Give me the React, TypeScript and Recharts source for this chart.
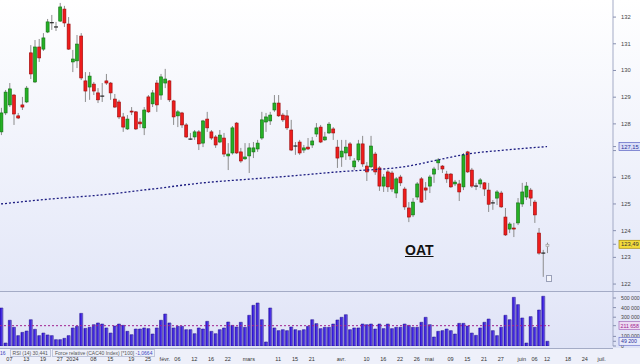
import React from 'react';
import { ComposedChart, Bar, Line, XAxis, YAxis, ReferenceLine } from 'recharts';

// OAT daily candles, 5 Dec 2023 -> 12 Jun 2024 (index = trading day)
const open = [
  127.70, 128.41, 128.71, 129.08, 128.30, 128.71, 128.82, 130.66, 129.57, 130.88,
  130.80, 131.44, 131.79, 131.63, 131.85, 132.30, 131.74, 130.32, 130.36, 131.29,
  129.61, 129.38, 129.49, 129.16, 129.04, 129.61, 129.53, 128.93, 128.82, 128.26,
  127.81, 128.48, 128.45, 128.07, 127.85, 129.01, 128.75, 129.53, 129.08, 129.53,
  129.61, 128.86, 128.30, 128.41, 127.96, 127.43, 127.51, 127.70, 127.28, 128.18,
  127.70, 127.51, 127.32, 127.47, 126.80, 126.91, 128.03, 126.95, 126.69, 126.80,
  126.95, 127.06, 127.47, 128.07, 128.11, 128.52, 128.78, 128.33, 128.30, 127.77,
  127.17, 127.32, 127.02, 127.13, 127.21, 127.62, 127.88, 127.40, 127.66, 127.81,
  127.13, 126.76, 126.91, 127.25, 126.39, 126.65, 127.25, 126.42, 126.39, 126.87,
  126.35, 125.67, 126.20, 126.16, 125.41, 126.01, 125.56, 124.85, 124.59, 125.26,
  125.94, 125.60, 125.67, 126.12, 126.54, 126.42, 126.12, 126.12, 125.75, 125.75,
  125.64, 126.95, 126.27, 125.67, 125.75, 125.79, 125.52, 125.04, 125.22, 125.41,
  124.51, 124.06, 124.10, 124.29, 125.00, 125.26, 125.52, 125.07, 123.91, 123.16,
  123.40,
];
const high = [
  128.60, 129.27, 129.53, 129.12, 128.41, 129.01, 129.42, 130.95, 131.14, 131.18,
  131.40, 131.93, 132.08, 131.82, 132.53, 132.42, 132.00, 130.77, 131.33, 131.40,
  129.94, 129.94, 129.57, 129.34, 129.53, 129.87, 129.57, 129.12, 128.90, 128.41,
  128.33, 128.63, 128.48, 128.22, 128.63, 129.08, 129.27, 129.64, 129.87, 130.06,
  129.64, 128.90, 128.52, 128.45, 128.03, 127.66, 127.77, 127.77, 128.15, 128.45,
  127.77, 127.58, 127.77, 127.66, 127.28, 127.92, 128.07, 127.10, 127.28, 127.28,
  127.32, 127.40, 128.45, 128.41, 128.45, 129.08, 129.08, 128.41, 128.52, 128.15,
  127.32, 127.40, 127.21, 127.47, 127.51, 128.03, 127.96, 127.70, 128.07, 127.88,
  127.40, 127.40, 127.40, 127.32, 126.72, 127.40, 127.55, 126.57, 127.55, 126.95,
  126.42, 126.12, 126.27, 126.24, 126.01, 126.09, 125.64, 125.07, 125.22, 125.82,
  126.01, 125.82, 126.09, 126.39, 126.72, 126.46, 126.24, 126.16, 125.90, 125.90,
  126.91, 126.99, 126.35, 125.79, 125.97, 125.82, 125.79, 125.15, 125.52, 125.49,
  124.85, 124.32, 124.29, 125.22, 125.79, 125.82, 125.60, 125.15, 124.10, 123.28,
  123.55,
];
const low = [
  127.58, 128.33, 128.63, 127.96, 128.18, 128.52, 128.78, 129.68, 129.53, 130.32,
  130.73, 131.40, 131.52, 131.48, 131.82, 131.63, 130.77, 129.94, 130.09, 129.64,
  128.82, 128.90, 129.08, 128.78, 128.82, 129.46, 128.90, 128.60, 128.18, 127.70,
  127.77, 128.33, 127.77, 127.85, 127.58, 128.41, 128.63, 128.45, 128.90, 129.34,
  128.82, 127.96, 127.88, 127.85, 127.47, 127.40, 127.40, 127.02, 127.13, 127.70,
  127.40, 127.10, 127.28, 126.76, 126.27, 126.85, 126.87, 126.54, 126.65, 126.16,
  126.72, 126.95, 127.40, 127.70, 127.96, 128.45, 128.26, 128.07, 127.77, 126.98,
  126.84, 126.84, 126.91, 127.02, 127.10, 127.51, 127.28, 127.36, 127.62, 127.40,
  126.35, 126.39, 126.65, 126.65, 126.27, 126.57, 126.39, 125.86, 126.35, 126.09,
  125.49, 125.45, 125.45, 125.45, 125.22, 125.67, 124.78, 124.32, 124.51, 125.15,
  125.04, 125.15, 125.41, 125.79, 126.27, 126.16, 125.79, 125.60, 125.67, 125.11,
  125.52, 126.16, 125.60, 125.52, 125.60, 125.30, 124.70, 124.78, 124.96, 124.85,
  123.80, 123.91, 123.76, 124.21, 124.89, 125.15, 124.92, 124.29, 123.10, 122.27,
  123.16,
];
const close = [
  128.41, 129.19, 129.31, 128.37, 128.22, 128.63, 129.34, 129.87, 130.88, 130.47,
  131.22, 131.82, 131.79, 131.63, 132.38, 131.78, 130.80, 130.43, 130.99, 129.72,
  129.23, 129.79, 129.23, 128.90, 129.04, 129.53, 129.16, 128.63, 128.26, 127.88,
  128.18, 128.45, 127.81, 128.00, 128.52, 128.45, 129.16, 128.71, 129.76, 129.68,
  128.90, 128.26, 128.45, 127.96, 127.51, 127.43, 127.70, 127.25, 128.11, 127.85,
  127.47, 127.21, 127.58, 126.87, 126.87, 127.85, 126.91, 126.61, 126.76, 127.10,
  127.10, 127.28, 128.15, 128.26, 128.33, 128.78, 128.30, 128.15, 127.85, 127.02,
  127.17, 126.91, 127.10, 127.06, 127.36, 127.85, 127.32, 127.51, 127.99, 127.66,
  126.72, 126.98, 127.13, 126.80, 126.61, 127.25, 126.50, 126.20, 127.17, 126.20,
  125.67, 126.01, 125.64, 125.56, 125.94, 125.79, 124.89, 124.51, 125.07, 125.75,
  125.07, 125.52, 126.01, 126.31, 126.65, 126.31, 125.94, 125.64, 125.82, 125.45,
  126.84, 126.20, 125.67, 125.67, 125.90, 125.56, 124.99, 125.04, 125.45, 124.89,
  123.84, 124.25, 124.06, 125.04, 125.45, 125.67, 125.22, 124.59, 123.16, 123.16,
  123.49,
];
// volume in thousands
const volumeK = [
  396, 31, 268, 195, 108, 142, 156, 274, 174, 108,
  135, 115, 108, 66, 66, 80, 108, 188, 205, 340,
  184, 195, 222, 240, 229, 188, 135, 208, 229, 215,
  153, 118, 177, 177, 188, 181, 125, 188, 268, 333,
  240, 188, 205, 205, 170, 170, 128, 188, 177, 257,
  153, 128, 170, 188, 250, 215, 198, 247, 195, 320,
  424, 448, 274, 42, 396, 188, 160, 170, 160, 198,
  170, 160, 170, 205, 274, 233, 181, 195, 195, 229,
  271, 299, 326, 170, 188, 188, 229, 222, 229, 177,
  229, 181, 229, 181, 195, 195, 229, 215, 195, 195,
  247, 299, 222, 94, 153, 160, 177, 160, 125, 236,
  236, 208, 135, 111, 188, 247, 281, 160, 108, 195,
  320, 274, 507, 431, 292, 31, 306, 195, 375, 518,
  49.2,
];
// dotted long moving average, read at a few points
const maIdx = [0, 12, 24, 36, 48, 60, 66, 80, 97, 104, 111, 120, 130];
const maVal = [125.0, 125.19, 125.34, 125.56, 125.79, 125.94, 126.01, 126.2, 126.42, 126.65, 126.87, 127.02, 127.15];

const priceTicks = [122, 123, 124, 125, 126, 127, 128, 129, 130, 131, 132];
const maLast = 127.15;
const lastClose = 123.49;
const volTicks = [0, 100000, 300000, 400000, 500000];
const volAvg = 211658;
const volLast = 49200;

const tickIdx = [2, 6, 10, 14, 17, 22, 26, 31, 35, 39, 42, 46, 50, 54, 59, 66, 70, 74, 81, 87, 91, 95, 99, 102, 107, 111, 115, 119, 124, 127, 130, 135, 139, 143];
const tickLabels = ['07', '13', '19', '27', '2024', '08', '15', '19', '25', 'févr.', '06', '12', '16', '22', 'mars', '11', '15', '21', 'avr.', '10', '16', '22', '26', 'mai', '09', '15', '21', '27', 'juin', '06', '12', '18', '24', 'juil.'];

const X_DOMAIN: [number, number] = [-0.24, 145.7];
const FONT = '"Liberation Sans", Arial, sans-serif';

const rows = open.map((o, i) => {
  const k = maIdx.indexOf(i);
  return {
    i,
    open: o,
    high: high[i],
    low: low[i],
    close: close[i],
    vol: volumeK[i] * 1000,
    ma: k >= 0 ? maVal[k] : null,
    last: i === open.length - 1,
  };
});

const Candle = (props: any) => {
  const { x, y, width, height, payload } = props;
  if (x == null || y == null) return null;
  const top = height < 0 ? y + height : y;
  const h = Math.abs(height);
  const { open: o, close: c, high: hi, low: lo, last } = payload;
  const yOf = (v: number) => top + ((hi - v) / (hi - lo)) * h;
  const cx = x + width / 2;
  const y1 = Math.min(yOf(o), yOf(c));
  const y2 = Math.max(yOf(o), yOf(c));
  let fill = '#ee1c1c', stroke = '#9a0b0b';
  if (c > o) { fill = '#25b025'; stroke = '#0f6e0f'; }
  if (last) { fill = '#e4e4e4'; stroke = '#9a9a9a'; }
  const flat = Math.abs(c - o) < 0.005;
  return (
    <g>
      <line x1={cx} x2={cx} y1={top} y2={top + h} stroke="#8c8c8c" strokeWidth={1} />
      {flat ? (
        <line x1={x - 0.5} x2={x + width + 0.5} y1={y1} y2={y1} stroke={last ? '#888' : '#222'} strokeWidth={1.2} />
      ) : (
        <rect x={x} y={y1} width={width} height={Math.max(1, y2 - y1)} fill={fill} stroke={stroke} strokeWidth={0.6} />
      )}
    </g>
  );
};

const PriceTick = (props: any) => {
  const { x, y, payload } = props;
  const v = payload.value;
  if (v === maLast) {
    return (
      <g>
        <rect x={x + 1} y={y - 4} width={24} height={8} fill="#dadef8" stroke="#5a63c4" strokeWidth={0.7} />
        <text x={x + 3} y={y + 2} fontSize={5.8} fontFamily={FONT} fill="#2a2f9a">127,15</text>
      </g>
    );
  }
  if (v === lastClose) {
    return (
      <g>
        <rect x={x + 1} y={y - 4} width={24} height={8} fill="#f3dc3c" stroke="#a68a00" strokeWidth={0.7} />
        <text x={x + 3} y={y + 2} fontSize={5.8} fontFamily={FONT} fill="#333">123,49</text>
      </g>
    );
  }
  // the 127 label sits under the moving-average box
  if (Math.abs(v - maLast) < 0.5) return <g />;
  return <text x={x + 3} y={y + 2} fontSize={5.8} fontFamily={FONT} fill="#444">{v}</text>;
};

const fmtVol = (v: number) => String(v).replace(/\B(?=(\d{3})+(?!\d))/g, ' ');

const VolTick = (props: any) => {
  const { x, y, payload } = props;
  const v = payload.value;
  if (v === volAvg) {
    return (
      <g>
        <rect x={x + 1} y={y - 4} width={24} height={8} fill="#eddcf3" stroke="#9a55b0" strokeWidth={0.6} />
        <text x={x + 2.5} y={y + 2} fontSize={5.2} fontFamily={FONT} fill="#a0208f">{fmtVol(v)}</text>
      </g>
    );
  }
  if (v === volLast) {
    return (
      <g>
        <rect x={x + 1} y={y - 4} width={22} height={8} fill="#e8ebfb" stroke="#5a63c4" strokeWidth={0.6} />
        <text x={x + 3} y={y + 2} fontSize={5.2} fontFamily={FONT} fill="#2a2f9a">{fmtVol(v)}</text>
      </g>
    );
  }
  return <text x={x + 3} y={y + 2} fontSize={5.2} fontFamily={FONT} fill="#444">{fmtVol(v)}</text>;
};

const dateLabel = (v: number) => {
  const k = tickIdx.indexOf(v);
  return k >= 0 ? tickLabels[k] : '';
};

export default function App() {
  return (
    <div style={{ position: 'absolute', left: 0, top: 0, width: 640, height: 364, overflow: 'hidden', background: '#eef0fa', fontFamily: FONT }}>
      <div style={{ position: 'absolute', left: 0, top: 0, width: 640, height: 291, background: 'linear-gradient(#ffffff, #e3e7f8)' }} />
      <div style={{ position: 'absolute', left: 0, top: 291, width: 640, height: 57, background: 'linear-gradient(#e6e9f9, #dfe3f6)' }} />
      <div style={{ position: 'absolute', left: 0, top: 291, width: 640, height: 1, background: '#a4abc6' }} />
      <div style={{ position: 'absolute', left: 0, top: 348, width: 613, height: 1, background: '#a4abc6' }} />

      <div style={{ position: 'absolute', left: 0, top: 0 }}>
        <ComposedChart width={640} height={291} data={rows} margin={{ top: 0, right: 0, bottom: 0, left: 0 }}>
          <XAxis type="number" dataKey="i" domain={X_DOMAIN} hide allowDataOverflow />
          <YAxis
            orientation="right"
            width={27}
            domain={[121.74, 132.64]}
            ticks={[...priceTicks, maLast, lastClose]}
            interval={0}
            allowDataOverflow
            tick={<PriceTick />}
            tickSize={3}
            tickLine={{ stroke: '#8890b0' }}
            axisLine={{ stroke: '#a4abc6' }}
          />
          <Bar dataKey={(d: any) => [d.low, d.high]} barSize={3} shape={<Candle />} isAnimationActive={false} />
          <Line
            dataKey="ma"
            type="monotone"
            stroke="#1b1b80"
            strokeWidth={1.3}
            strokeDasharray="2 2"
            dot={false}
            activeDot={false}
            connectNulls
            isAnimationActive={false}
          />
        </ComposedChart>
      </div>

      <div style={{ position: 'absolute', left: 0, top: 291 }}>
        <ComposedChart width={640} height={73} data={rows} margin={{ top: 0, right: 0, bottom: 0, left: 0 }}>
          <defs>
            <linearGradient id="volGrad" x1="0" y1="0" x2="1" y2="0">
              <stop offset="0" stopColor="#2c10d2" />
              <stop offset="0.6" stopColor="#4b32e6" />
              <stop offset="1" stopColor="#8a82d8" />
            </linearGradient>
          </defs>
          <XAxis
            type="number"
            dataKey="i"
            domain={X_DOMAIN}
            allowDataOverflow
            ticks={tickIdx}
            interval={0}
            tickFormatter={dateLabel}
            height={18}
            axisLine={false}
            tickLine={false}
            tickSize={6}
            tickMargin={5}
            tick={{ fontSize: 5.5, fill: '#333', fontFamily: FONT }}
          />
          <YAxis
            orientation="right"
            width={27}
            domain={[0, 573000]}
            ticks={[...volTicks, volAvg, volLast]}
            interval={0}
            allowDataOverflow
            tick={<VolTick />}
            tickSize={3}
            tickLine={{ stroke: '#8890b0' }}
            axisLine={{ stroke: '#a4abc6' }}
          />
          <Bar dataKey="vol" barSize={3} fill="url(#volGrad)" stroke="#1f0e8c" strokeWidth={0.5} isAnimationActive={false} />
          <ReferenceLine
            segment={[{ x: -0.24, y: volAvg }, { x: 130.6, y: volAvg }]}
            stroke="#a0208f"
            strokeWidth={1}
            strokeDasharray="2 2"
          />
        </ComposedChart>
      </div>

      <div style={{ position: 'absolute', left: 0, top: 349, height: 8, fontSize: 5, lineHeight: '8px', color: '#555', whiteSpace: 'nowrap' }}>
        <span style={{ color: '#3a44c0', paddingRight: 2 }}>16</span>
        <span style={{ border: '1px solid #c0c6dc', padding: '0 2px', marginLeft: 2 }}>RSI (14) 30,441</span>
        <span style={{ border: '1px solid #c0c6dc', padding: '0 2px', marginLeft: 1 }}>
          Force relative (CAC40 Index) [*100] <span style={{ color: '#3a44c0' }}>-1,0664</span>
        </span>
      </div>

      <div style={{ position: 'absolute', left: 405, top: 243, fontSize: 14, lineHeight: '14px', fontWeight: 'bold', color: '#111', textDecoration: 'underline' }}>
        OAT
      </div>
      <div style={{ position: 'absolute', left: 546, top: 275, width: 4, height: 5, border: '1px solid #9aa0b8', background: '#f4f5fb' }} />
    </div>
  );
}
